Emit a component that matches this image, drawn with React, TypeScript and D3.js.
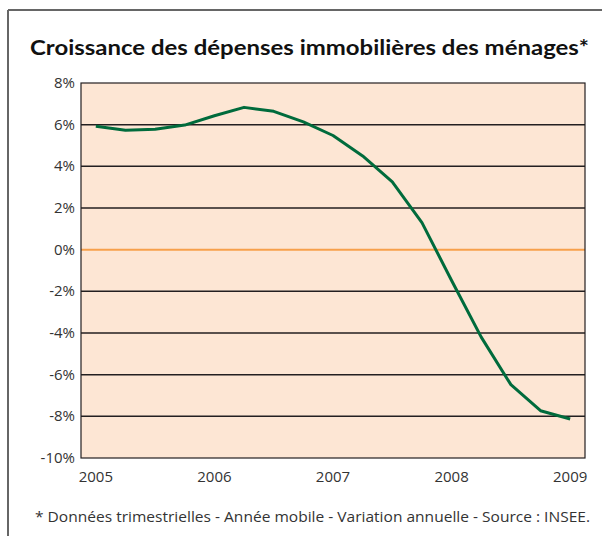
import React from 'react'
import * as d3 from 'd3'

// quarterly points, 2005 Q1 -> 2009 Q1
const quarters = [
  '2005T1', '2005T2', '2005T3', '2005T4',
  '2006T1', '2006T2', '2006T3', '2006T4',
  '2007T1', '2007T2', '2007T3', '2007T4',
  '2008T1', '2008T2', '2008T3', '2008T4',
  '2009T1',
]
const values = [5.92, 5.73, 5.78, 5.98, 6.43, 6.83, 6.64, 6.13, 5.48, 4.5, 3.25, 1.3, -1.48, -4.2, -6.48, -7.73, -8.13]
const yearLabels = ['2005', '2006', '2007', '2008', '2009']
const yTicks = [8, 6, 4, 2, 0, -2, -4, -6, -8, -10]

const title = 'Croissance des dépenses immobilières des ménages*'
const note = '* Données trimestrielles - Année mobile - Variation annuelle - Source : INSEE.'

const App: React.FC = () => {
  const width = 602
  const height = 536
  const left = 81
  const right = 585
  const top = 83
  const bottom = 458

  const x = d3.scalePoint<string>().domain(quarters).range([left, right]).padding(0.5)
  const y = d3.scaleLinear().domain([-10, 8]).range([bottom, top])

  const line = d3
    .line<number>()
    .x((d, i) => x(quarters[i]) as number)
    .y(d => y(d))

  const font = "'Open Sans', 'Noto Sans', sans-serif"

  return (
    <svg width={width} height={height} style={{ position: 'absolute', left: 0, top: 0 }}>
      <rect x={0} y={0} width={width} height={height} fill="#fff" />
      {/* frame */}
      <line x1={8} x2={width} y1={10} y2={10} stroke="#666" strokeWidth={2} />
      <line x1={8} x2={8} y1={10} y2={height} stroke="#666" strokeWidth={2} />

      <text x={30} y={55} fontFamily="Lato, sans-serif" fontWeight="bold" fontSize={21.5} fill="#111" textLength={559} lengthAdjust="spacingAndGlyphs">
        {title}
      </text>

      <rect x={left} y={top} width={right - left} height={bottom - top} fill="#fde6d4" />
      {yTicks
        .filter(t => t !== 8 && t !== -10)
        .map(t => (
          <line key={t} x1={left} x2={right} y1={y(t)} y2={y(t)} stroke={t === 0 ? '#f7a04b' : '#231f20'} strokeWidth={t === 0 ? 2 : 1.5} />
        ))}
      <rect x={left} y={top} width={right - left} height={bottom - top} fill="none" stroke="#231f20" strokeWidth={1.2} />

      <path d={line(values) || ''} fill="none" stroke="#006b3c" strokeWidth={3} strokeLinejoin="round" />

      {yTicks.map(t => (
        <text key={t} x={75} y={y(t) + 5} textAnchor="end" fontFamily={font} fontSize={15} fill="#333">
          {t}%
        </text>
      ))}
      {yearLabels.map((lab, i) => (
        <text key={lab} x={x(quarters[i * 4]) as number} y={482} textAnchor="middle" fontFamily={font} fontSize={15} fill="#333">
          {lab}
        </text>
      ))}

      <text x={35} y={522} fontFamily={font} fontSize={14} fill="#333" textLength={555} lengthAdjust="spacingAndGlyphs">
        {note}
      </text>
    </svg>
  )
}

export default App
